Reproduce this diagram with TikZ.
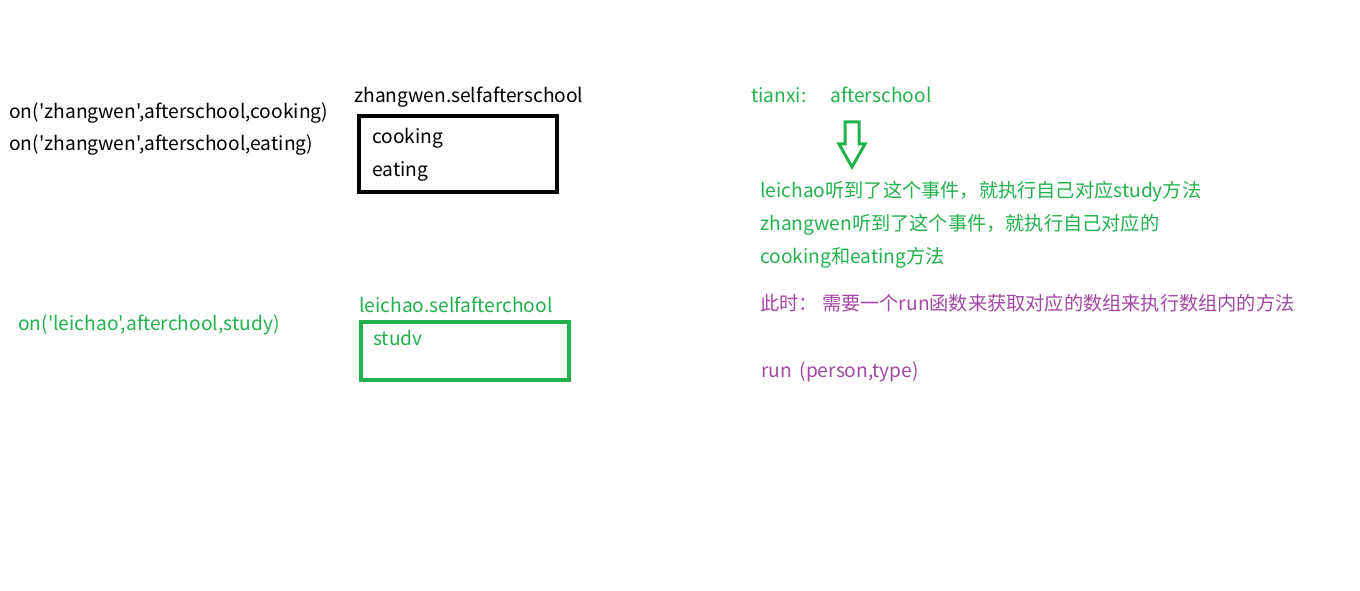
\documentclass[tikz,border=0pt]{standalone}
\usepackage{fontspec}
\newfontfamily\cjkfont{Noto Sans CJK SC}
\usepackage{tikz}
\definecolor{paintgreen}{RGB}{34,177,76}
\definecolor{paintpurple}{RGB}{163,73,164}

\begin{document}
\begin{tikzpicture}[
  x=0.75pt, y=-0.75pt,
  txt/.style={anchor=base west, inner sep=0pt, font=\cjkfont\fontsize{14.4}{17}\selectfont},
  gtxt/.style={txt, text=paintgreen},
  ptxt/.style={txt, text=paintpurple},
  listbox/.style={draw, line width=3pt, inner sep=0pt, anchor=north west}
]
\useasboundingbox (0,0) rectangle (1360,591);
% zhangwen
\node[txt] (oncook) at (9,119) {on('zhangwen',afterschool,cooking)};
\node[txt] (oneat) at (9,151) {on('zhangwen',afterschool,eating)};
\node[txt] (zwtitle) at (354,103) {zhangwen.selfafterschool};
\node[listbox, minimum width=148.5pt, minimum height=57pt] (zwbox) at (357,114) {};
\node[txt] (cook) at (372,144) {cooking};
\node[txt] (eat) at (372,177) {eating};
% leichao
\node[gtxt] (onstudy) at (18,331) {on('leichao',afterchool,study)};
\node[gtxt] (lctitle) at (359,313) {leichao.selfafterchool};
\node[listbox, draw=paintgreen, minimum width=156pt, minimum height=43.5pt] (lcbox) at (359,320) {};
\node[gtxt] (study) at (373,346) {studv};
% tianxi
\node[gtxt] (tianxi) at (751,103) {tianxi:};
\node[gtxt] (event) at (830,103) {afterschool};
\draw[paintgreen, line width=2.25pt, line join=miter]
  (845,122) -- (859,122) -- (859,144) -- (865,144) -- (852,167)
  -- (839,144) -- (845,144) -- cycle;
\node[gtxt] (lcline) at (760,198) {leichao听到了这个事件，就执行自己对应study方法};
\node[gtxt] (zwline) at (760,231) {zhangwen听到了这个事件，就执行自己对应的};
\node[gtxt] (zwline2) at (760,264) {cooking和eating方法};
\node[ptxt] (note) at (760,311) {此时：\ 需要一个run函数来获取对应的数组来执行数组内的方法};
\node[ptxt] (run) at (761,378) {run\ \,(person,type)};
\end{tikzpicture}
\end{document}
